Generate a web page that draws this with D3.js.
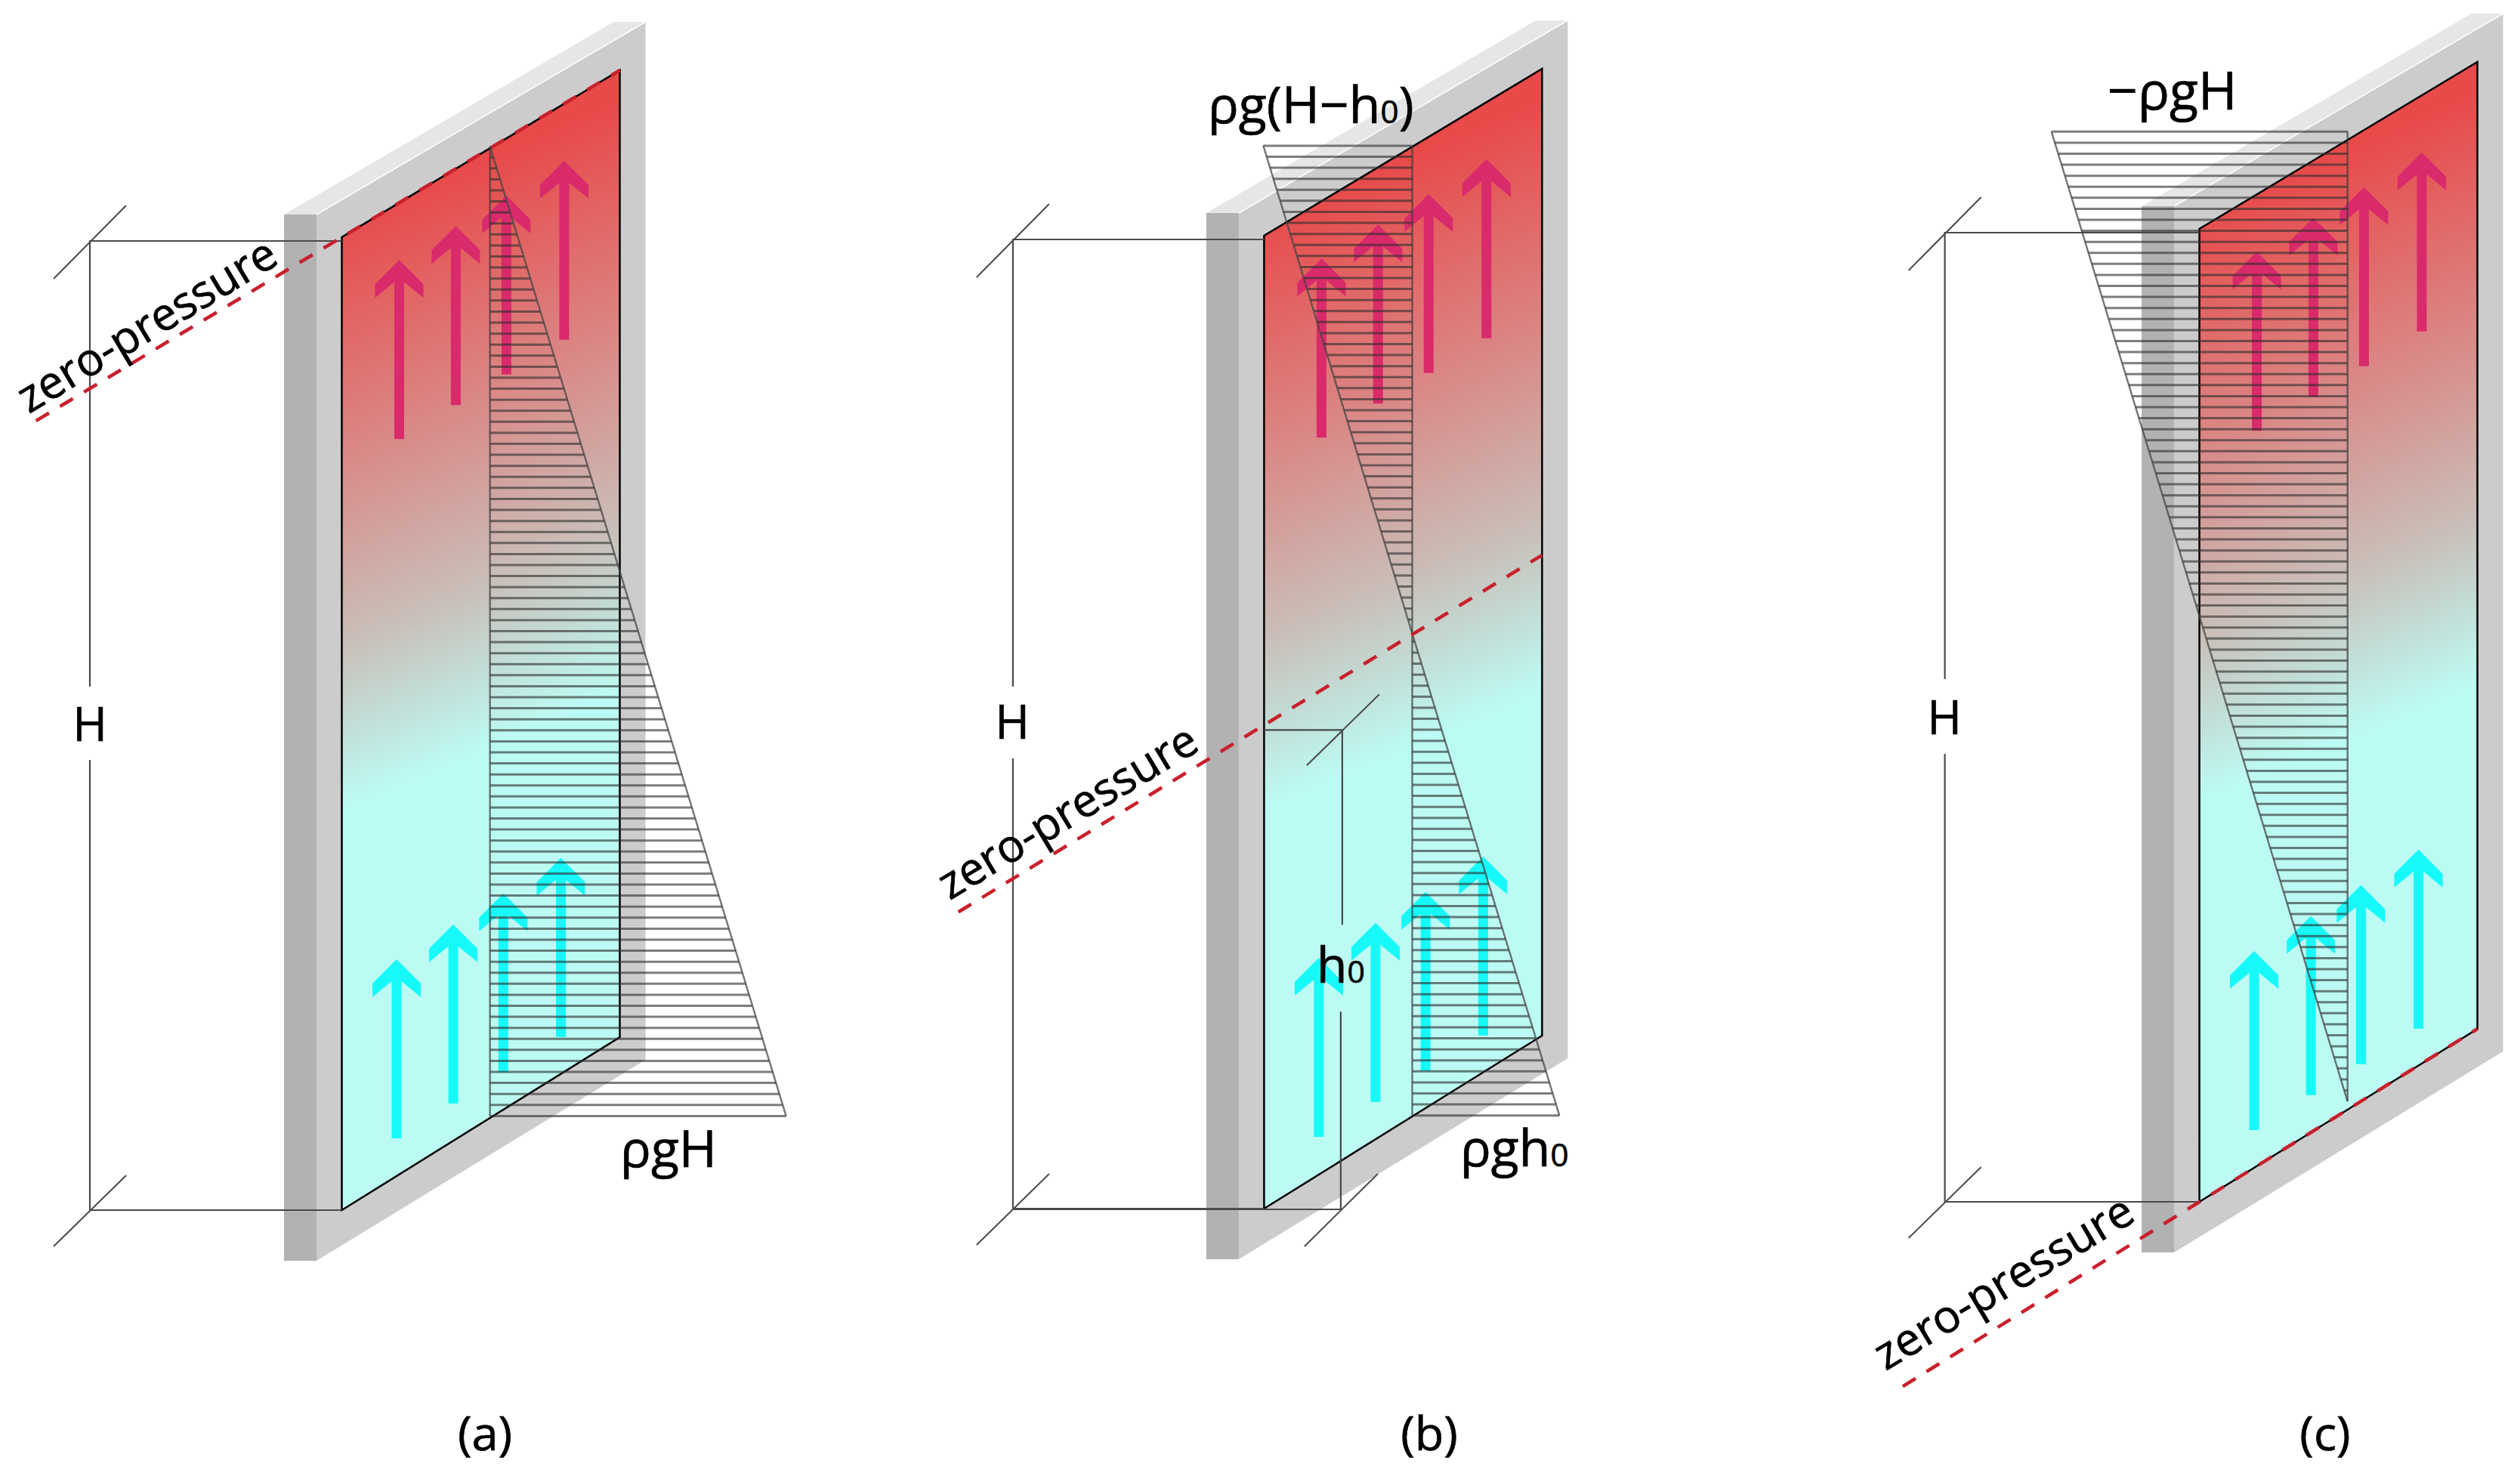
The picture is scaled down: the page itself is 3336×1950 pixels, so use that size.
<!DOCTYPE html>
<html>
<head>
<meta charset="utf-8">
<script src="https://cdnjs.cloudflare.com/ajax/libs/d3/7.8.5/d3.min.js"></script>
<style>
html,body{margin:0;padding:0;background:#fff}
svg{display:block}
text{font-family:"Open Sans","Noto Sans",sans-serif;fill:#000;stroke:#000;stroke-width:0.7px}
</style>
</head>
<body>
<svg id="chart" width="3336" height="1950" viewBox="0 0 3336 1950"></svg>
<script>
// ---------- values (fractions of wall height H / wall width) ----------
const sceneLabels   = ["(a)", "(b)", "(c)"];
const zeroLevel     = [1, 0.497, 0];          // height of the zero-pressure line, in H
const zeroLineStart = [-1.1, -1.1, -1.067];   // where the dashed line starts, in wall widths
const profileShift  = [0.002, 0.001, 0.0085]; // small offset of the pressure profile, in H
const h0Level       = [null, 0.492, null];    // height of the h0 dimension, in H
const redArrowU     = [0.2065, 0.41, 0.592, 0.8];
const cyanArrowU    = [0.197, 0.401, 0.581, 0.788];
const redArrowTip   = 0.941;
const cyanArrowTip  = 0.223;
const arrowLength   = 0.184;
const profileU      = 0.533;
const hatchCount    = 88;

// ---------- layout ----------
const originX = [452.5, 1673.4, 2911.6];
const originY = [1602, 1600, 1591];
const dimX    = [-333.5, -332.5, -337];
const gapTop  = [-693, -691, -692];
const gapBot  = [-596, -596, -593];
const hTextX  = [119, 1340, 2574];
const hTextY  = [981, 978, 972];
const zeroTextX = [205, 1424, 2663];
const zeroTextY = [448, 1092, 1715];
const captionX  = [642, 1892, 3078];

const u = d3.scaleLinear().domain([0, 1]).range([0, 368]);
const v = d3.scaleLinear().domain([0, 1]).range([0, -1288]);
const shear = d3.scaleLinear().domain([0, 1]).range([-229, -221]);
const pressure = d3.scaleLinear().domain([0, 1]).range([0, 392]);
const arrowHead = {half: 32, slope: 32, wing: 50, notchX: 6.5, notchY: 29, shaft: 6.5};

const svg = d3.select("#chart");
const defs = svg.append("defs");
const line = d3.line();
const RED = "#d92a6c", CYAN = "#17f9f9", ZERO = "#c9202c", DIM = "#4a4a4a";

sceneLabels.forEach((label, s) => {
  const ox = originX[s], oy = originY[s];
  const pt = (a, b) => [ox + u(a), oy + v(b) + a * shear(b)];
  const g = svg.append("g").attr("class", "scene");

  // gradient
  const id = "panelFill" + s;
  const grad = defs.append("linearGradient").attr("id", id).attr("gradientUnits", "userSpaceOnUse")
    .attr("x1", ox - 468.4).attr("y1", oy - 1115.3).attr("x2", ox - 190).attr("y2", oy - 452);
  [[0, "#e84a4a"], [0.41, "#d98a88"], [0.73, "#c9c0ba"], [1, "#bcfbf4"]].forEach(d =>
    grad.append("stop").attr("offset", d[0]).attr("stop-color", d[1]));

  // wall
  const poly = (pts, fill) => g.append("path").attr("d", line(pts) + "Z").attr("fill", fill);
  const wl = ox - 76.5, wm = ox - 33.5, wr = ox + 402;
  poly([[wm, oy - 1318], [wr, oy - 1573], [wr, oy - 199], [wm, oy + 67]], "#cccccc");
  poly([[wl, oy - 1318], [wm, oy - 1318], [wm, oy + 67], [wl, oy + 67]], "#b2b2b2");
  poly([[wl, oy - 1318], [wm, oy - 1318], [wr, oy - 1573], [wr - 42, oy - 1573]], "#e6e6e6");
  g.append("path").attr("d", line([[wm, oy - 1318], [wr, oy - 1573]]))
    .attr("fill", "none").attr("stroke", "#fff").attr("stroke-width", 1.5);

  // panel
  g.append("path").attr("d", line([pt(0, 0), pt(1, 0), pt(1, 1), pt(0, 1)]) + "Z")
    .attr("fill", `url(#${id})`).attr("stroke", "#000").attr("stroke-width", 2.5)
    .attr("stroke-linejoin", "miter");

  // dimension lines
  const dim = (pts, w = 2.2) => g.append("path").attr("d", line(pts)).attr("fill", "none")
    .attr("stroke", DIM).attr("stroke-width", w);
  const dx = ox + dimX[s], topY = pt(0, 1)[1] + 5, botY = oy;
  dim([[ox, topY], [dx, topY], [dx, oy + gapTop[s]]]);
  dim([[dx, oy + gapBot[s]], [dx, botY], [ox, botY]]);
  dim([[dx - 48, topY + 50], [dx + 48, topY - 47]], 2);
  dim([[dx - 48, botY + 48], [dx + 48, botY - 46]], 2);
  if (h0Level[s] !== null) {
    const hy = oy + v(h0Level[s]), hx = ox + 103.5;
    dim([[ox, hy], [hx, hy], [hx, hy + 258]]);
    dim([[hx - 2, hy + 373], [hx - 2, botY + 1], [dx, botY + 1]]);
    dim([[hx - 47, hy + 47], [hx + 49, hy - 47]], 2);
    dim([[hx - 50, botY + 50], [hx + 47, botY - 46]], 2);
  }

  // arrows
  const arrow = (a, tip, color) => {
    const [x, y] = pt(a, tip);
    const base = y - v(arrowLength), h = arrowHead;
    poly([[x, y], [x + h.half, y + h.slope], [x + h.half, y + h.wing], [x + h.notchX, y + h.notchY],
          [x + h.shaft, base], [x - h.shaft, base],
          [x - h.notchX, y + h.notchY], [x - h.half, y + h.wing], [x - h.half, y + h.slope]], color);
  };
  redArrowU.forEach(a => arrow(a, redArrowTip, RED));
  cyanArrowU.forEach(a => arrow(a, cyanArrowTip, CYAN));

  // pressure profile: hatch + outline
  const levels = d3.range(0, hatchCount + 1).map(i => i / hatchCount);
  const rootX = pt(profileU, 0)[0];
  const shift = profileShift[s];
  const yAt = b => pt(profileU, b + shift)[1];
  const xAt = b => rootX + pressure(zeroLevel[s] - b);
  const hatch = g.append("g").attr("stroke", "rgba(45,45,45,0.62)").attr("stroke-width", 3).attr("fill", "none");
  levels.forEach(b => hatch.append("path").attr("d", line([[rootX, yAt(b)], [xAt(b), yAt(b)]])));
  g.append("path").attr("d", line([[rootX, yAt(1)], [rootX, yAt(0)]])).attr("fill", "none")
    .attr("stroke", "rgba(60,60,60,0.7)").attr("stroke-width", 2.4);
  g.append("path").attr("d", line([[xAt(1), yAt(1)], [xAt(0), yAt(0)]])).attr("fill", "none")
    .attr("stroke", "rgba(70,70,70,0.75)").attr("stroke-width", 2.4);

  // zero-pressure line
  g.append("path").attr("d", line([pt(zeroLineStart[s], zeroLevel[s]), pt(1, zeroLevel[s])]))
    .attr("fill", "none").attr("stroke", ZERO).attr("stroke-width", 4.6)
    .attr("stroke-dasharray", "20 17");

  // texts
  const txt = (x, y, anchor, size) => g.append("text").attr("x", x).attr("y", y)
    .attr("text-anchor", anchor).attr("font-size", size);
  txt(hTextX[s], hTextY[s], "middle", 62).text("H");
  g.append("text").attr("text-anchor", "middle").attr("font-size", 60)
    .attr("transform", `translate(${zeroTextX[s]},${zeroTextY[s]}) rotate(-31)`)
    .text("zero-pressure");
  txt(captionX[s], 1920, "middle", 63).text(label);
});

// formula labels with subscripts
const formula = (x, y, size, parts, anchor = "start") => {
  const t = svg.append("text").attr("x", x).attr("y", y).attr("font-size", size).attr("text-anchor", anchor);
  parts.forEach(p => t.append("tspan").attr("font-size", p[1] ? size * 0.62 : size).text(p[0]));
};
formula(885, 1545, 68, [["ρgH", 0]], "middle");
formula(1599, 163, 68, [["ρg(H−h", 0], ["0", 1], [")", 0]]);
formula(1933, 1544, 68, [["ρgh", 0], ["0", 1]]);
formula(1743, 1301, 66, [["h", 0], ["0", 1]]);
formula(2790, 145, 70, [["−ρgH", 0]]);
</script>
</body>
</html>
